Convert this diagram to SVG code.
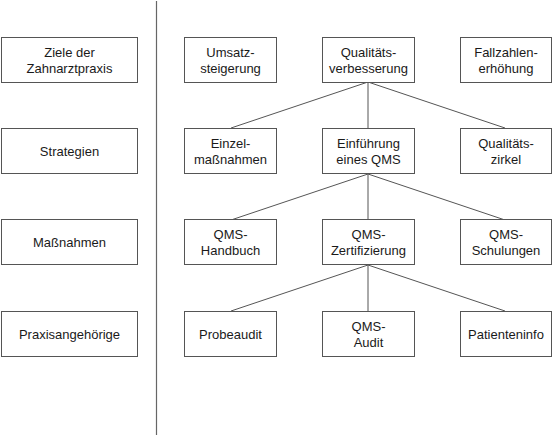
<svg xmlns="http://www.w3.org/2000/svg" width="553" height="438" viewBox="0 0 553 438">
<style>
rect{fill:#fff;stroke:#555;stroke-width:1}
text{font-family:"Liberation Sans",Arial,sans-serif;font-size:13px;fill:#1a1a1a;text-anchor:middle}
.c line{stroke:#555;stroke-width:1}
</style>
<rect x="0" y="0" width="553" height="438" style="stroke:none"/>
<line x1="156.5" y1="1" x2="156.5" y2="435" stroke="#666" stroke-width="1.2"/>
<g class="c" id="connectors">
<line x1="368" y1="82" x2="231" y2="128"/>
<line x1="368" y1="82" x2="368" y2="128"/>
<line x1="368" y1="82" x2="505" y2="128"/>
<line x1="368" y1="174" x2="231" y2="220"/>
<line x1="368" y1="174" x2="368" y2="220"/>
<line x1="368" y1="174" x2="505" y2="220"/>
<line x1="368" y1="265" x2="231" y2="311"/>
<line x1="368" y1="265" x2="368" y2="311"/>
<line x1="368" y1="265" x2="505" y2="311"/>
</g>
<g id="ziele"><rect x="1.5" y="37.5" width="136" height="45"/><text x="69.5" y="57">Ziele der</text><text x="69.5" y="72.5">Zahnarztpraxis</text></g>
<g id="strategien"><rect x="1.5" y="128.5" width="136" height="45"/><text x="69.5" y="155.5">Strategien</text></g>
<g id="massnahmen"><rect x="1.5" y="219.5" width="136" height="45"/><text x="69.5" y="246.5">Maßnahmen</text></g>
<g id="praxis"><rect x="1.5" y="311.5" width="136" height="45"/><text x="69.5" y="338.5">Praxisangehörige</text></g>

<g id="umsatz"><rect x="184.5" y="37.5" width="92" height="45"/><text x="230.5" y="57">Umsatz-</text><text x="230.5" y="72.5">steigerung</text></g>
<g id="qualitaet"><rect x="322.5" y="37.5" width="92" height="45"/><text x="368.5" y="57">Qualitäts-</text><text x="368.5" y="72.5">verbesserung</text></g>
<g id="fallzahlen"><rect x="460.5" y="37.5" width="91" height="45"/><text x="506" y="57">Fallzahlen-</text><text x="506" y="72.5">erhöhung</text></g>

<g id="einzel"><rect x="184.5" y="128.5" width="92" height="45"/><text x="230.5" y="148">Einzel-</text><text x="230.5" y="163.5">maßnahmen</text></g>
<g id="einfuehrung"><rect x="322.5" y="128.5" width="92" height="45"/><text x="368.5" y="148">Einführung</text><text x="368.5" y="163.5">eines QMS</text></g>
<g id="zirkel"><rect x="460.5" y="128.5" width="91" height="45"/><text x="506" y="148">Qualitäts-</text><text x="506" y="163.5">zirkel</text></g>

<g id="handbuch"><rect x="184.5" y="219.5" width="92" height="45"/><text x="230.5" y="239">QMS-</text><text x="230.5" y="254.5">Handbuch</text></g>
<g id="zert"><rect x="322.5" y="219.5" width="92" height="45"/><text x="368.5" y="239">QMS-</text><text x="368.5" y="254.5">Zertifizierung</text></g>
<g id="schulungen"><rect x="460.5" y="219.5" width="91" height="45"/><text x="506" y="239">QMS-</text><text x="506" y="254.5">Schulungen</text></g>

<g id="probeaudit"><rect x="184.5" y="311.5" width="92" height="45"/><text x="230.5" y="338.5">Probeaudit</text></g>
<g id="audit"><rect x="322.5" y="311.5" width="92" height="45"/><text x="368.5" y="331">QMS-</text><text x="368.5" y="346.5">Audit</text></g>
<g id="patienteninfo"><rect x="460.5" y="311.5" width="91" height="45"/><text x="506" y="338.5">Patienteninfo</text></g>
</svg>
